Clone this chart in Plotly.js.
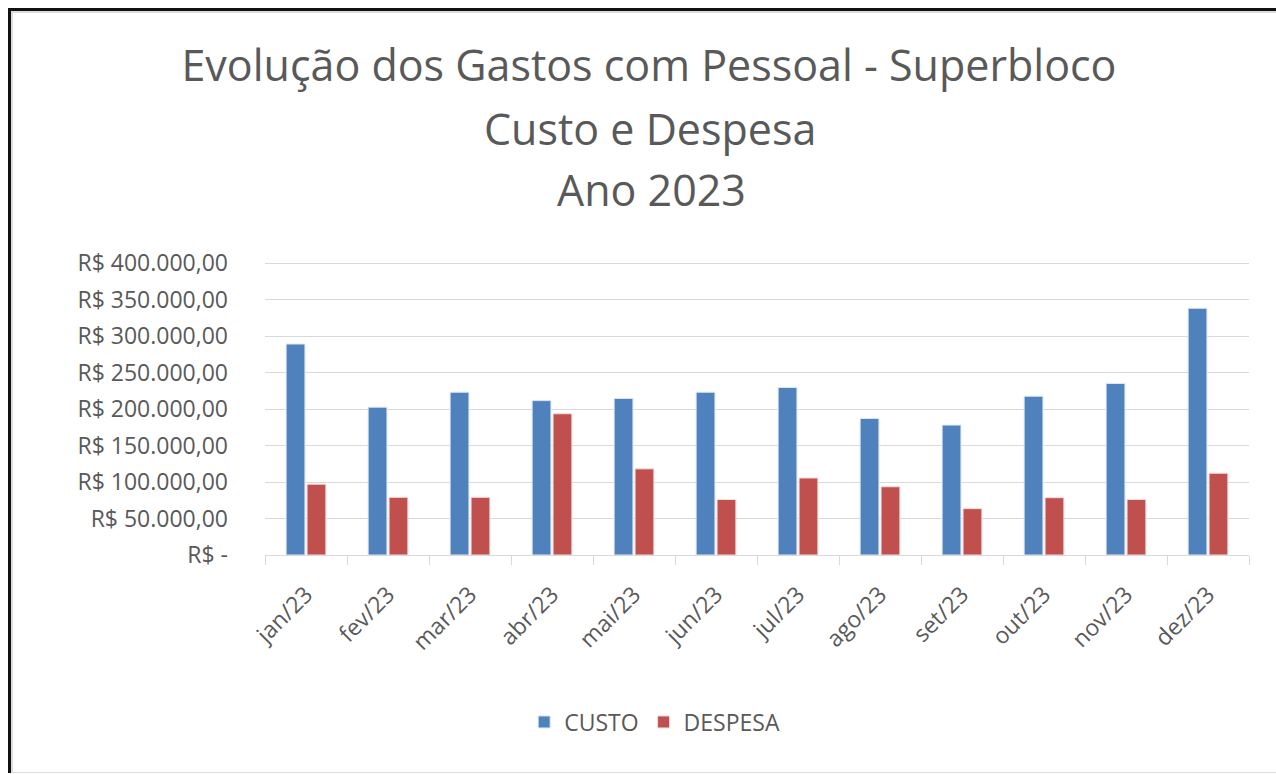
<!DOCTYPE html>
<html>
<head>
<meta charset="utf-8">
<script src="https://cdn.plot.ly/plotly-3.0.1.min.js"></script>
<style>
  html, body { margin: 0; padding: 0; background: #fff; }
  #wrap { position: relative; width: 1276px; height: 774px; }
  #chart { position: absolute; left: 0; top: 0; width: 1276px; height: 774px; }
  #frame { position: absolute; left: 8px; top: 8px; right: 0; bottom: 1px;
           border-left: 3px solid #111; border-top: 3px solid #111;
           box-shadow: inset 2px 2px 0 #ddd; pointer-events: none; }
  #frameb { position: absolute; left: 11px; right: 0; bottom: 1px; height: 1px; background: #ddd; pointer-events: none; }
</style>
</head>
<body>
<div id="wrap">
  <div id="chart"></div>
  <div id="frame"></div>
  <div id="frameb"></div>
</div>
<script>
const months = ["jan/23","fev/23","mar/23","abr/23","mai/23","jun/23","jul/23","ago/23","set/23","out/23","nov/23","dez/23"];
const custo = [289000, 202500, 223000, 211500, 214500, 223000, 229500, 187000, 178000, 217500, 235000, 338000];
const despesa = [97000, 79000, 79000, 193500, 118000, 76000, 105500, 93500, 63500, 78500, 76000, 112000];
const yTickVals = [0, 50000, 100000, 150000, 200000, 250000, 300000, 350000, 400000];
const yTickText = ["R$ -", "R$ 50.000,00", "R$ 100.000,00", "R$ 150.000,00", "R$ 200.000,00", "R$ 250.000,00", "R$ 300.000,00", "R$ 350.000,00", "R$ 400.000,00"];
const titleLines = ["Evolução dos Gastos com Pessoal - Superbloco", "Custo e Despesa", "Ano 2023"];

const fontFam = "Open Sans, Noto Sans, sans-serif";
const txtColor = "#595959";

const traces = [
  { type: "bar", name: "CUSTO", x: months, y: custo,
    marker: { color: "#4f81bd", line: { color: "#dce6f2", width: 1 } } },
  { type: "bar", name: "DESPESA", x: months, y: despesa,
    marker: { color: "#c0504d", line: { color: "#f2dcdb", width: 1 } } }
];

const titleFont = { family: fontFam, size: 43, color: txtColor };
const plotH = 296; // 774 - 259 - 219

const layout = {
  width: 1276, height: 774,
  paper_bgcolor: "rgba(0,0,0,0)", plot_bgcolor: "#fff",
  margin: { l: 265, r: 27, t: 259, b: 219 },
  barmode: "group", bargap: 0.49, bargroupgap: 0.1,
  font: { family: fontFam, color: txtColor },
  title: { text: titleLines[0], x: 0.5086, xref: "container", xanchor: "center",
           y: 1 - 66 / 774, yref: "container", yanchor: "middle", font: titleFont },
  annotations: [
    { text: titleLines[1], xref: "paper", yref: "paper", x: (650 - 265) / 984, y: (555 - 129) / plotH,
      xanchor: "center", yanchor: "middle", showarrow: false, font: titleFont },
    { text: titleLines[2], xref: "paper", yref: "paper", x: (651 - 265) / 984, y: (555 - 189) / plotH,
      xanchor: "center", yanchor: "middle", showarrow: false, font: titleFont }
  ],
  xaxis: { type: "category", showline: true, linecolor: "#d9d9d9", linewidth: 1,
           ticks: "outside", tickson: "boundaries", ticklen: 9, tickcolor: "#d9d9d9",
           tickangle: -45, tickfont: { size: 23, color: txtColor }, showgrid: false,
           ticklabelstandoff: 16, fixedrange: true },
  yaxis: { range: [0, 405500], tickvals: yTickVals, ticktext: yTickText,
           showgrid: true, gridcolor: "#d9d9d9", gridwidth: 1, zeroline: false,
           showline: false, ticks: "", ticklabelstandoff: 36,
           tickfont: { size: 23, color: txtColor }, fixedrange: true },
  legend: { orientation: "h", x: 0.396, xanchor: "center", y: (555 - 722) / plotH, yanchor: "middle",
            font: { size: 23, color: txtColor }, itemwidth: 30, traceorder: "normal" },
  showlegend: true
};

Plotly.newPlot("chart", traces, layout, { displayModeBar: false, staticPlot: true });
</script>
</body>
</html>
